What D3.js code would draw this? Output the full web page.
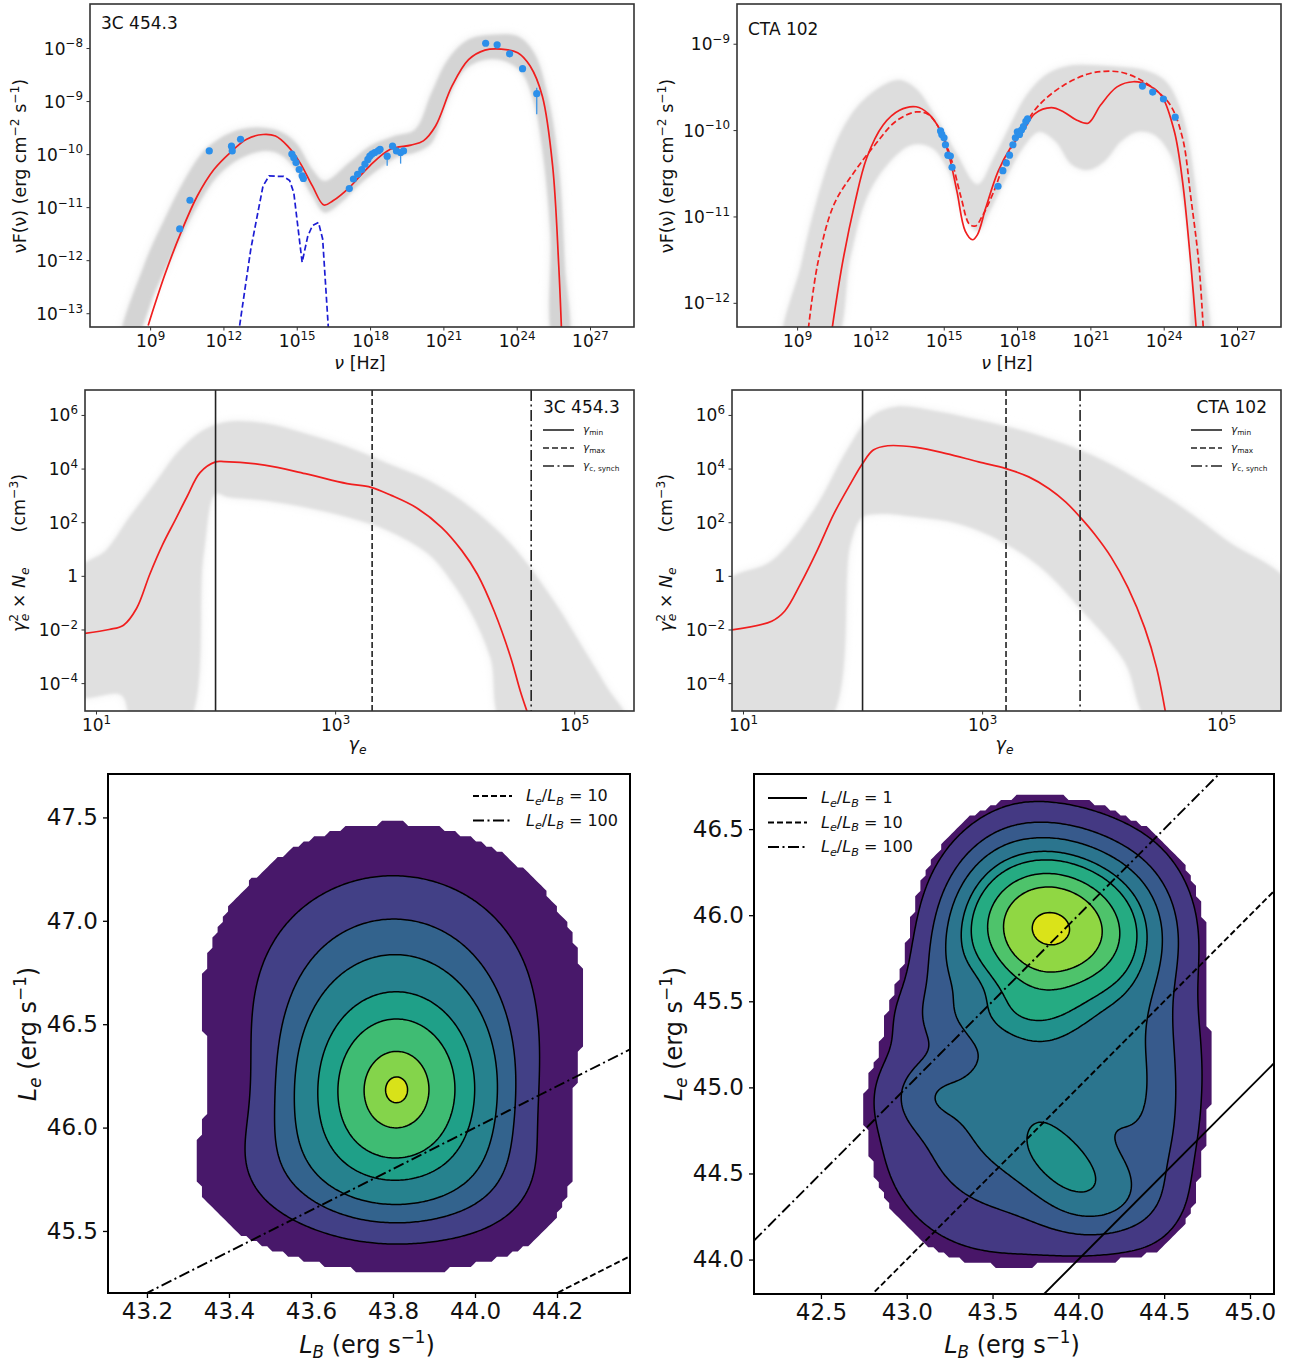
<!DOCTYPE html>
<html>
<head>
<meta charset="utf-8">
<script src="https://cdn.jsdelivr.net/npm/d3@7"></script>
<style>
  body { margin: 0; background: #fff; }
  text { font-family: 'DejaVu Sans', sans-serif; }
</style>
</head>
<body>
<script>
// ---- SED, 3C 454.3 (log10 nu, log10 nuFnu) ----
const sed3cModel = [[8.92, -13.23], [9.59, -12.29], [10.26, -11.48], [10.93, -10.79], [11.61, -10.29], [12.28, -9.97],
  [12.95, -9.72], [13.62, -9.63], [14.13, -9.66], [14.63, -9.85], [15.13, -10.16], [15.64, -10.60], [16.11, -10.96],
  [16.48, -10.88], [17.15, -10.63], [17.99, -10.22], [18.83, -9.91], [19.67, -9.83], [20.18, -9.75], [20.68, -9.47],
  [21.35, -8.72], [22.03, -8.22], [22.70, -8.04], [23.37, -8.02], [24.04, -8.09], [24.55, -8.34], [25.05, -8.91],
  [25.47, -10.22], [25.72, -12.10], [25.84, -13.4]]
const sed3cDisk = [[12.61, -13.4], [13.12, -11.79], [13.62, -10.6], [13.87, -10.41], [14.2, -10.42], [14.46, -10.42],
  [14.71, -10.5], [14.88, -10.73], [15.22, -12.04], [15.45, -11.55], [15.64, -11.35], [15.89, -11.29], [16.06, -11.6], [16.31, -13.4]]
const sed3cBandUpper = [[7.85, -13.5], [8.75, -12.1], [9.59, -11.23], [10.43, -10.47], [11.27, -9.91], [12.28, -9.6],
  [13.29, -9.5], [14.29, -9.57], [14.97, -9.79], [15.64, -10.29], [16.14, -10.51], [17.15, -10.16], [17.99, -9.85],
  [19.0, -9.66], [19.84, -9.54], [20.51, -8.85], [21.18, -8.22], [22.03, -7.84], [23.03, -7.75], [24.04, -7.78],
  [24.71, -8.09], [25.3, -8.97], [25.72, -10.22], [25.97, -12.1], [26.08, -13.5]]
const sed3cBandLower = [[8.35, -13.5], [9.25, -12.54], [10.09, -11.73], [10.93, -10.98], [11.77, -10.41], [12.61, -10.1],
  [13.62, -9.94], [14.29, -10.0], [14.97, -10.29], [15.64, -10.79], [16.14, -11.1], [16.82, -10.91], [17.49, -10.6],
  [18.33, -10.29], [19.17, -10.04], [19.84, -9.97], [20.51, -9.79], [21.18, -8.97], [21.86, -8.41], [22.7, -8.22],
  [23.54, -8.25], [24.21, -8.47], [24.71, -9.03], [25.05, -9.91], [25.38, -11.48], [25.53, -13.5]]
const sed3cPoints = [[10.21, -11.41], [10.63, -10.87], [11.42, -9.94], [12.33, -9.85], [12.36, -9.94], [12.70, -9.72],
  [14.80, -10.0], [14.88, -10.07], [14.97, -10.16], [15.10, -10.29], [15.22, -10.41], [15.27, -10.46],
  [17.15, -10.65], [17.32, -10.47], [17.49, -10.38], [17.66, -10.29], [17.79, -10.19], [17.91, -10.10], [17.99, -10.04],
  [18.08, -10.0], [18.19, -9.97], [18.33, -9.94], [18.41, -9.91], [18.70, -10.04], [18.92, -9.85], [19.08, -9.94],
  [19.25, -9.97], [19.37, -9.94], [22.73, -7.91], [23.20, -7.94], [23.71, -8.11], [24.24, -8.39], [24.82, -8.86]]
const sed3cErrors = [[24.82, -8.75, -9.25], [18.70, -10.0, -10.22], [19.25, -9.95, -10.18]]

// ---- SED, CTA 102 ----
const sedCtaModel = [[10.38, -12.4], [10.85, -11.55], [11.35, -10.86], [11.85, -10.32], [12.52, -9.94], [13.19, -9.77],
  [13.87, -9.73], [14.37, -9.81], [14.87, -10.01], [15.21, -10.29], [15.54, -10.71], [15.88, -11.17], [16.18, -11.27],
  [16.38, -11.21], [16.72, -10.90], [17.22, -10.48], [17.72, -10.21], [18.23, -10.02], [18.73, -9.81], [19.40, -9.74],
  [19.91, -9.79], [20.41, -9.88], [20.91, -9.92], [21.42, -9.71], [22.09, -9.50], [22.76, -9.44], [23.43, -9.49],
  [23.93, -9.61], [24.44, -10.02], [24.77, -10.59], [25.11, -11.55], [25.36, -12.4]]
const sedCtaModelAlt = [[9.42, -12.4], [9.84, -11.55], [10.51, -10.86], [11.35, -10.48], [12.19, -10.17], [13.03, -9.90],
  [13.87, -9.79], [14.37, -9.82], [14.87, -10.01], [15.29, -10.32], [15.71, -10.78], [16.05, -11.09], [16.30, -11.11],
  [16.55, -11.01], [17.05, -10.71], [17.56, -10.32], [18.23, -9.98], [18.90, -9.71], [19.91, -9.48], [20.91, -9.35],
  [21.58, -9.32], [22.26, -9.33], [22.93, -9.40], [23.60, -9.52], [24.27, -9.71], [24.77, -10.09], [25.11, -10.78],
  [25.44, -11.55], [25.64, -12.4]]
const sedCtaBandUpper = [[8.5, -12.5], [9.17, -11.55], [9.84, -10.78], [10.68, -10.09], [11.52, -9.71], [12.52, -9.48],
  [13.19, -9.42], [13.87, -9.52], [14.70, -9.86], [15.54, -10.28], [16.38, -10.63], [17.05, -10.32], [17.72, -9.94],
  [18.40, -9.59], [19.23, -9.35], [20.24, -9.25], [21.25, -9.25], [22.26, -9.27], [23.26, -9.31], [24.10, -9.44],
  [24.77, -9.83], [25.27, -10.59], [25.61, -11.55], [25.82, -12.5]]
const sedCtaBandLower = [[10.45, -12.5], [11.18, -11.47], [11.85, -10.78], [12.69, -10.40], [13.70, -10.17], [14.54, -10.21],
  [15.21, -10.48], [15.88, -11.01], [16.38, -11.17], [16.88, -10.94], [17.56, -10.55], [18.23, -10.21], [18.90, -10.02],
  [19.57, -10.13], [20.24, -10.40], [20.91, -10.46], [21.58, -10.36], [22.26, -10.13], [22.93, -10.02], [23.60, -10.05],
  [24.27, -10.28], [24.77, -10.78], [25.11, -11.55], [25.27, -12.5]]
const sedCtaPoints = [[14.87, -10.01], [14.92, -10.05], [15.01, -10.09], [15.07, -10.17], [15.17, -10.29], [15.27, -10.30],
  [15.34, -10.43], [17.22, -10.65], [17.42, -10.47], [17.56, -10.38], [17.69, -10.29], [17.83, -10.17], [17.93, -10.09],
  [18.01, -10.02], [18.10, -10.05], [18.18, -10.0], [18.26, -9.96], [18.36, -9.90], [18.43, -9.87],
  [23.13, -9.49], [23.55, -9.56], [23.99, -9.64], [24.47, -9.85]]

const nuTicks = [9, 12, 15, 18, 21, 24, 27]
const flux3cTicks = [-8, -9, -10, -11, -12, -13]
const fluxCtaTicks = [-9, -10, -11, -12]

// ---- electron distributions (log10 gamma, log10 gamma^2 Ne) ----
const ele3cModel = [[0.88, -2.16], [1.11, -2.0], [1.23, -1.84], [1.34, -1.21], [1.45, 0.06], [1.56, 1.19], [1.66, 2.06],
  [1.76, 2.94], [1.87, 3.85], [2.0, 4.25], [2.07, 4.26], [2.41, 4.13], [2.75, 3.81], [3.10, 3.44], [3.30, 3.30],
  [3.47, 3.0], [3.68, 2.54], [3.89, 1.81], [4.06, 0.94], [4.19, 0.06], [4.33, -1.31], [4.47, -3.06], [4.55, -4.31], [4.64, -5.5]]
const ele3cBandUpper = [[0.85, 0.19], [1.08, 0.94], [1.28, 2.19], [1.49, 3.44], [1.70, 4.69], [1.90, 5.44], [2.10, 5.75],
  [2.41, 5.69], [2.75, 5.31], [3.10, 4.81], [3.44, 4.19], [3.78, 3.56], [4.13, 2.56], [4.47, 1.19], [4.81, -0.81],
  [5.09, -2.81], [5.26, -4.06], [5.45, -5.6]]
const ele3cBandLower = [[0.85, -4.44], [1.21, -4.44], [1.32, -5.6], [1.75, -5.6], [1.9, 0.8], [2.0, 3.06], [2.10, 2.94],
  [2.41, 2.81], [2.75, 2.56], [3.10, 2.19], [3.44, 1.69], [3.78, 0.81], [3.95, -0.06], [4.13, -1.31], [4.30, -3.06], [4.42, -5.6]]
const eleCtaModel = [[0.88, -2.03], [1.24, -1.69], [1.35, -1.31], [1.48, -0.31], [1.62, 0.94], [1.76, 2.31], [1.90, 3.44],
  [2.0, 4.19], [2.09, 4.69], [2.21, 4.85], [2.45, 4.79], [2.70, 4.56], [2.97, 4.25], [3.20, 4.0], [3.39, 3.69],
  [3.56, 3.25], [3.70, 2.75], [3.82, 2.19], [3.94, 1.56], [4.08, 0.69], [4.22, -0.44], [4.36, -1.94], [4.46, -3.44], [4.55, -5.5]]
const eleCtaBandUpper = [[0.85, -0.31], [1.24, 0.56], [1.59, 2.44], [1.87, 4.69], [2.07, 5.94], [2.28, 6.31], [2.63, 6.13],
  [2.97, 5.81], [3.32, 5.44], [3.67, 4.94], [4.01, 4.31], [4.36, 3.44], [4.71, 2.44], [5.05, 1.31], [5.6, -0.5], [5.6, -5.6]]
const eleCtaBandLower = [[0.85, -5.6], [1.69, -5.6], [1.9, 1.2], [2.0, 2.19], [2.14, 2.31], [2.45, 2.19], [2.80, 1.94],
  [3.15, 1.31], [3.49, 0.31], [3.84, -1.31], [4.19, -3.19], [4.43, -5.6]]

const gammaTicks = [1, 3, 5]
const densityTicks = [6, 4, 2, 0, -2, -4]
const gammaLines3c = [100, 2040, 43650]
const gammaLinesCta = [100, 1585, 6600]
const gammaLineNames = ['min', 'max', 'c, synch']

// ---- luminosity posteriors: gaussian components ----
const lum3cCx = [43.81, 43.80, 43.71, 44.0]
const lum3cCy = [46.18, 46.64, 45.85, 45.75]
const lum3cSx = [0.13, 0.20, 0.18, 0.12]
const lum3cSy = [0.28, 0.36, 0.22, 0.2]
const lum3cRho = [0, 0, 0.1, 0]
const lum3cW = [1, 0.18, 0.12, 0.06]
const lum3cLevelAt = [[43.452, 46.2], [43.513, 46.2], [43.56, 46.2], [43.617, 46.2], [43.666, 46.2], [43.73, 46.2], [43.783, 46.2]]
const lum3cEdgeAt = [43.34, 46.05]

const lumCtaCx = [43.78, 44.12, 43.93, 43.15, 43.76, 44.10, 44.35, 43.35, 43.65, 44.40]
const lumCtaCy = [45.93, 45.90, 44.55, 44.95, 44.95, 44.35, 45.35, 45.85, 45.42, 44.70]
const lumCtaSx = [0.24, 0.22, 0.18, 0.15, 0.40, 0.22, 0.15, 0.18, 0.28, 0.15]
const lumCtaSy = [0.25, 0.24, 0.15, 0.13, 0.40, 0.15, 0.40, 0.30, 0.12, 0.30]
const lumCtaRho = [0, 0, -0.35, 0, 0.2, 0, 0, 0.6, 0, 0]
const lumCtaW = [1, 0.38, 0.16, 0.06, 0.21, 0.10, 0.06, 0.08, 0.12, 0.05]
const lumCtaLevelAt = [[43.775, 46.66], [43.775, 46.54], [43.775, 46.45], [43.775, 46.37], [43.775, 46.32], [43.775, 46.24], [43.775, 46.16], [43.775, 46.0]]
const lumCtaEdgeAt = [43.775, 46.70]

const ratios3c = [10, 100]
const ratiosCta = [1, 10, 100]
const lb3cTicks = [43.2, 43.4, 43.6, 43.8, 44.0, 44.2]
const le3cTicks = [45.5, 46.0, 46.5, 47.0, 47.5]
const lbCtaTicks = [42.5, 43.0, 43.5, 44.0, 44.5, 45.0]
const leCtaTicks = [44.0, 44.5, 45.0, 45.5, 46.0, 46.5]

const p10 = v => Math.pow(10, v)
const dashes = { solid: null, dashed: '6,3', dashdot: '11,3.5,2,3.5' }
const ratioStyle = { 1: 'solid', 10: 'dashed', 100: 'dashdot' }

const svg = d3.select('body').append('svg').attr('width', 1293).attr('height', 1364)
svg.append('rect').attr('width', 1293).attr('height', 1364).attr('fill', '#fff')
const defs = svg.append('defs')
defs.append('filter').attr('id', 'soft').append('feGaussianBlur').attr('stdDeviation', 1.5)
defs.append('filter').attr('id', 'halo').attr('x', '-20%').attr('y', '-20%').attr('width', '140%').attr('height', '140%')
  .append('feGaussianBlur').attr('stdDeviation', 5)

// text with sub/superscripts: parts are strings or {t, k: 'sup'|'sub', it, dx}
function rich (text, parts, size) {
  let shift = 0
  parts.forEach(p => {
    const o = typeof p === 'string' ? { t: p } : p
    const target = o.k === 'sup' ? -0.42 * size : o.k === 'sub' ? 0.22 * size : 0
    const ts = text.append('tspan').text(o.t).attr('dy', target - shift)
    shift = target
    if (o.k) ts.attr('font-size', 0.7 * size)
    if (o.it) ts.attr('font-style', 'italic')
    if (o.dx) ts.attr('dx', o.dx)
  })
}

function powLabel (e) {
  if (e === 0) return ['1']
  return ['10', { t: e < 0 ? '\u2212' + (-e) : String(e), k: 'sup' }]
}

function clipGroup (c) {
  defs.append('clipPath').attr('id', c.id).append('rect')
    .attr('x', c.left).attr('y', c.top).attr('width', c.right - c.left).attr('height', c.bottom - c.top)
  return svg.append('g').attr('clip-path', `url(#${c.id})`)
}

function frame (c, color, width) {
  svg.append('rect').attr('x', c.left).attr('y', c.top).attr('width', c.right - c.left).attr('height', c.bottom - c.top)
    .attr('fill', 'none').attr('stroke', color).attr('stroke-width', width)
}

function logAxes (c, x, y, size) {
  const gx = svg.append('g').attr('transform', `translate(0,${c.bottom})`)
    .call(d3.axisBottom(x).tickValues(c.xTicks.map(p10)).tickSizeInner(3.5).tickSizeOuter(0).tickFormat(''))
  const gy = svg.append('g').attr('transform', `translate(${c.left},0)`)
    .call(d3.axisLeft(y).tickValues(c.yTicks.map(p10)).tickSizeInner(3.5).tickSizeOuter(0).tickFormat(''))
  for (const g of [gx, gy]) {
    g.attr('font-family', null).attr('font-size', null)
    g.select('.domain').remove()
    g.selectAll('.tick line').attr('stroke', '#333').attr('stroke-width', 1)
    g.selectAll('.tick text').remove()
  }
  gx.selectAll('.tick').each(function (d) {
    const t = d3.select(this).append('text').attr('text-anchor', 'middle').attr('y', 20)
      .attr('font-size', size).attr('fill', '#111')
    rich(t, powLabel(Math.round(Math.log10(d))), size)
  })
  gy.selectAll('.tick').each(function (d) {
    const t = d3.select(this).append('text').attr('text-anchor', 'end').attr('x', -7).attr('y', 6)
      .attr('font-size', size).attr('fill', '#111')
    rich(t, powLabel(Math.round(Math.log10(d))), size)
  })
}

function drawBand (plot, px, py, upper, lower, tones) {
  const band = upper.concat(lower.slice().reverse())
  const area = d3.line().x(px).y(py).curve(d3.curveCatmullRomClosed.alpha(0.5))
  plot.append('path').attr('d', area(band)).attr('fill', tones[0]).attr('filter', 'url(#halo)')
  plot.append('path').attr('d', area(band)).attr('fill', tones[1]).attr('filter', 'url(#soft)')
}

// ---------------- SED panels ----------------
function drawSed (c) {
  const x = d3.scaleLog().domain(c.xDomain.map(p10)).range([c.left, c.right])
  const y = d3.scaleLog().domain(c.yDomain.map(p10)).range([c.bottom, c.top])
  const px = d => x(p10(d[0]))
  const py = d => y(p10(d[1]))
  const plot = clipGroup(c)
  drawBand(plot, px, py, c.bandUpper, c.bandLower, c.tones)

  c.lines.forEach(l => {
    const gen = d3.line().x(px).y(py).curve(l.linear ? d3.curveLinear : d3.curveCatmullRom.alpha(0.5))
    plot.append('path').attr('d', gen(l.data)).attr('fill', 'none')
      .attr('stroke', l.color).attr('stroke-width', 1.7).attr('stroke-dasharray', l.dash || null)
  })

  plot.selectAll('line.err').data(c.errors || []).join('line')
    .attr('x1', d => x(p10(d[0]))).attr('x2', d => x(p10(d[0])))
    .attr('y1', d => y(p10(d[1]))).attr('y2', d => y(p10(d[2])))
    .attr('stroke', '#3d95e6').attr('stroke-width', 1.3)
  plot.selectAll('circle').data(c.points).join('circle')
    .attr('cx', px).attr('cy', py).attr('r', 3.6).attr('fill', '#2b8fea')

  frame(c, '#333', 1.6)
  logAxes(c, x, y, 17)

  svg.append('text').attr('x', c.left + 11).attr('y', c.titleY).attr('font-size', 17).attr('fill', '#111').text(c.title)
  const xl = svg.append('text').attr('x', (c.left + c.right) / 2 - 2).attr('y', 369)
    .attr('text-anchor', 'middle').attr('font-size', 17.5).attr('fill', '#111')
  rich(xl, [{ t: '\u03bd', it: true }, ' [Hz]'], 17.5)
  const yl = svg.append('text').attr('transform', `translate(${c.left - 64},166) rotate(-90)`)
    .attr('text-anchor', 'middle').attr('font-size', 17.5).attr('fill', '#111')
  rich(yl, ['\u03bdF(\u03bd) (erg cm', { t: '\u22122', k: 'sup' }, ' s', { t: '\u22121', k: 'sup' }, ')'], 17.5)
}

drawSed({
  id: 'c1', left: 90, right: 634, top: 4, bottom: 327,
  xDomain: [6.54, 28.8], yDomain: [-13.26, -7.17], xTicks: nuTicks, yTicks: flux3cTicks,
  bandUpper: sed3cBandUpper, bandLower: sed3cBandLower, points: sed3cPoints, errors: sed3cErrors,
  tones: ['#ececec', '#d4d4d4'],
  lines: [
    { data: sed3cDisk, color: '#1c1cd4', dash: '6,3', linear: true },
    { data: sed3cModel, color: '#f01e1e' }
  ],
  title: '3C 454.3', titleY: 29
})
drawSed({
  id: 'c2', left: 737, right: 1281, top: 4, bottom: 327,
  xDomain: [6.54, 28.8], yDomain: [-12.28, -8.54], xTicks: nuTicks, yTicks: fluxCtaTicks,
  bandUpper: sedCtaBandUpper, bandLower: sedCtaBandLower, points: sedCtaPoints,
  tones: ['#f0f0f0', '#dddddd'],
  lines: [
    { data: sedCtaModelAlt, color: '#f01e1e', dash: '6,3' },
    { data: sedCtaModel, color: '#f01e1e' }
  ],
  title: 'CTA 102', titleY: 35
})

// ---------------- electron distribution panels ----------------
function drawElectrons (c) {
  const x = d3.scaleLog().domain([p10(0.908), p10(5.5)]).range([c.left, c.right])
  const y = d3.scaleLog().domain([p10(-5.04), p10(6.93)]).range([c.bottom, c.top])
  const px = d => x(p10(d[0]))
  const py = d => y(p10(d[1]))
  const plot = clipGroup(c)
  drawBand(plot, px, py, c.bandUpper, c.bandLower, ['#f1f1f1', '#e0e0e0'])
  plot.append('path').attr('d', d3.line().x(px).y(py).curve(d3.curveCatmullRom.alpha(0.5))(c.model))
    .attr('fill', 'none').attr('stroke', '#f01e1e').attr('stroke-width', 1.7)

  const styles = ['solid', 'dashed', 'dashdot']
  plot.selectAll('line.vl').data(c.gammas).join('line')
    .attr('x1', d => x(d)).attr('x2', d => x(d)).attr('y1', c.top).attr('y2', c.bottom)
    .attr('stroke', '#222').attr('stroke-width', 1.6).attr('stroke-dasharray', (d, i) => dashes[styles[i]])

  frame(c, '#333', 1.6)
  c.xTicks = gammaTicks
  c.yTicks = densityTicks
  logAxes(c, x, y, 17)

  // legend
  const title = svg.append('text').attr('font-size', 17).attr('fill', '#111').text(c.title)
  if (c.titleAnchor === 'end') title.attr('x', c.titleX).attr('text-anchor', 'end')
  else title.attr('x', c.titleX)
  title.attr('y', 413)
  gammaLineNames.forEach((name, i) => {
    const ly = 430 + i * 18
    svg.append('line').attr('x1', c.legX).attr('x2', c.legX + 31).attr('y1', ly).attr('y2', ly)
      .attr('stroke', '#222').attr('stroke-width', 1.6).attr('stroke-dasharray', dashes[styles[i]])
    const t = svg.append('text').attr('x', c.legX + 40).attr('y', ly + 3).attr('font-size', 10.5).attr('fill', '#111')
    rich(t, [{ t: '\u03b3', it: true }, { t: name, k: 'sub' }], 10.5)
  })

  const xl = svg.append('text').attr('x', (c.left + c.right) / 2 - 2).attr('y', 750)
    .attr('text-anchor', 'middle').attr('font-size', 17.5).attr('fill', '#111')
  rich(xl, [{ t: '\u03b3', it: true }, { t: 'e', k: 'sub', it: true }], 17.5)
  const yl = svg.append('text').attr('transform', `translate(${c.left - 60},553) rotate(-90)`)
    .attr('text-anchor', 'middle').attr('font-size', 17.5).attr('fill', '#111')
  rich(yl, [{ t: '\u03b3', it: true }, { t: '2', k: 'sup' }, { t: 'e', k: 'sub', it: true, dx: -7.5 }, ' \u00d7 ',
    { t: 'N', it: true }, { t: 'e', k: 'sub', it: true }, '\u2003\u2003(cm', { t: '\u22123', k: 'sup' }, ')'], 17.5)
}

drawElectrons({
  id: 'c3', left: 85, right: 634, top: 390, bottom: 711,
  bandUpper: ele3cBandUpper, bandLower: ele3cBandLower, model: ele3cModel, gammas: gammaLines3c,
  title: '3C 454.3', titleX: 543, legX: 543
})
drawElectrons({
  id: 'c4', left: 732, right: 1281, top: 390, bottom: 711,
  bandUpper: eleCtaBandUpper, bandLower: eleCtaBandLower, model: eleCtaModel, gammas: gammaLinesCta,
  title: 'CTA 102', titleX: 1267, titleAnchor: 'end', legX: 1191
})

// ---------------- luminosity contour panels ----------------
function mixture (comp, x, y) {
  let s = 0
  for (let i = 0; i < comp.cx.length; i++) {
    const dx = (x - comp.cx[i]) / comp.sx[i]
    const dy = (y - comp.cy[i]) / comp.sy[i]
    const r = comp.rho[i]
    s += comp.w[i] * Math.exp(-(dx * dx - 2 * r * dx * dy + dy * dy) / (2 * (1 - r * r)))
  }
  return s
}

function gridValues (comp, xd, yd, n) {
  const v = new Float64Array(n * n)
  for (let j = 0; j < n; j++) {
    for (let i = 0; i < n; i++) {
      v[i + j * n] = mixture(comp, xd[0] + (i + 0.5) * (xd[1] - xd[0]) / n, yd[0] + (j + 0.5) * (yd[1] - yd[0]) / n)
    }
  }
  return v
}

function drawLum (c) {
  const xs = d3.scaleLinear().domain(c.xDomain).range([c.left, c.right])
  const ys = d3.scaleLinear().domain(c.yDomain).range([c.bottom, c.top])
  const plot = clipGroup(c)
  const gridPath = n => d3.geoPath(d3.geoTransform({
    point (gx, gy) {
      this.stream.point(xs(c.xDomain[0] + gx * (c.xDomain[1] - c.xDomain[0]) / n),
        ys(c.yDomain[0] + gy * (c.yDomain[1] - c.yDomain[0]) / n))
    }
  }))
  const levels = c.levelAt.map(p => mixture(c.comp, p[0], p[1])).sort((a, b) => a - b)
  const edge = mixture(c.comp, c.edgeAt[0], c.edgeAt[1])
  const nBands = levels.length + 1
  const nFine = 240
  const nCoarse = 100

  const coarse = d3.contours().size([nCoarse, nCoarse]).smooth(false).thresholds([edge])(gridValues(c.comp, c.xDomain, c.yDomain, nCoarse))
  plot.append('path').datum(coarse[0]).attr('d', gridPath(nCoarse)).attr('fill', d3.interpolateViridis(0.5 / nBands))

  const bands = d3.contours().size([nFine, nFine]).thresholds(levels)(gridValues(c.comp, c.xDomain, c.yDomain, nFine))
  const fine = gridPath(nFine)
  plot.selectAll('path.band').data(bands).join('path').attr('class', 'band')
    .attr('d', fine).attr('fill', (d, i) => d3.interpolateViridis((i + 1.5) / nBands))
  plot.selectAll('path.iso').data(bands).join('path').attr('class', 'iso')
    .attr('d', fine).attr('fill', 'none').attr('stroke', '#000').attr('stroke-width', 1.5)

  plot.selectAll('line.ratio').data(c.ratios).join('line').attr('class', 'ratio')
    .attr('x1', xs(c.xDomain[0])).attr('x2', xs(c.xDomain[1]))
    .attr('y1', d => ys(c.xDomain[0] + Math.log10(d))).attr('y2', d => ys(c.xDomain[1] + Math.log10(d)))
    .attr('stroke', '#000').attr('stroke-width', 1.9).attr('stroke-dasharray', d => dashes[ratioStyle[d]])

  frame(c, '#000', 2)
  const gx = svg.append('g').attr('transform', `translate(0,${c.bottom})`)
    .call(d3.axisBottom(xs).tickValues(c.xTicks).tickFormat(d3.format('.1f')).tickSizeInner(5).tickSizeOuter(0).tickPadding(5))
  const gy = svg.append('g').attr('transform', `translate(${c.left},0)`)
    .call(d3.axisLeft(ys).tickValues(c.yTicks).tickFormat(d3.format('.1f')).tickSizeInner(5).tickSizeOuter(0).tickPadding(5))
  for (const g of [gx, gy]) {
    g.attr('font-family', null).attr('font-size', null)
    g.select('.domain').remove()
    g.selectAll('.tick line').attr('stroke', '#000').attr('stroke-width', 1.3)
    g.selectAll('.tick text').attr('font-size', 23).attr('fill', '#111')
  }

  const xl = svg.append('text').attr('x', (c.left + c.right) / 2 - 2).attr('y', 1353)
    .attr('text-anchor', 'middle').attr('font-size', 24).attr('fill', '#111')
  rich(xl, [{ t: 'L', it: true }, { t: 'B', k: 'sub', it: true }, ' (erg s', { t: '\u22121', k: 'sup' }, ')'], 24)
  const yl = svg.append('text').attr('transform', `translate(${c.left - 72},1034) rotate(-90)`)
    .attr('text-anchor', 'middle').attr('font-size', 24).attr('fill', '#111')
  rich(yl, [{ t: 'L', it: true }, { t: 'e', k: 'sub', it: true }, ' (erg s', { t: '\u22121', k: 'sup' }, ')'], 24)

  c.ratios.forEach((r, i) => {
    const ly = c.legY + i * 24.5
    svg.append('line').attr('x1', c.legX).attr('x2', c.legX + 39).attr('y1', ly).attr('y2', ly)
      .attr('stroke', '#000').attr('stroke-width', 1.9).attr('stroke-dasharray', dashes[ratioStyle[r]])
    const t = svg.append('text').attr('x', c.legX + 53).attr('y', ly + 5).attr('font-size', 16).attr('fill', '#111')
    rich(t, [{ t: 'L', it: true }, { t: 'e', k: 'sub', it: true }, '/', { t: 'L', it: true }, { t: 'B', k: 'sub', it: true }, ' = ' + r], 16)
  })
}

drawLum({
  id: 'c5', left: 108, right: 630, top: 774, bottom: 1293,
  xDomain: [43.105, 44.378], yDomain: [45.20, 47.71], xTicks: lb3cTicks, yTicks: le3cTicks,
  comp: { cx: lum3cCx, cy: lum3cCy, sx: lum3cSx, sy: lum3cSy, rho: lum3cRho, w: lum3cW },
  levelAt: lum3cLevelAt, edgeAt: lum3cEdgeAt, ratios: ratios3c, legX: 473, legY: 796
})
drawLum({
  id: 'c6', left: 754, right: 1274, top: 774, bottom: 1294,
  xDomain: [42.11, 45.14], yDomain: [43.80, 46.82], xTicks: lbCtaTicks, yTicks: leCtaTicks,
  comp: { cx: lumCtaCx, cy: lumCtaCy, sx: lumCtaSx, sy: lumCtaSy, rho: lumCtaRho, w: lumCtaW },
  levelAt: lumCtaLevelAt, edgeAt: lumCtaEdgeAt, ratios: ratiosCta, legX: 768, legY: 798
})
</script>
</body>
</html>
